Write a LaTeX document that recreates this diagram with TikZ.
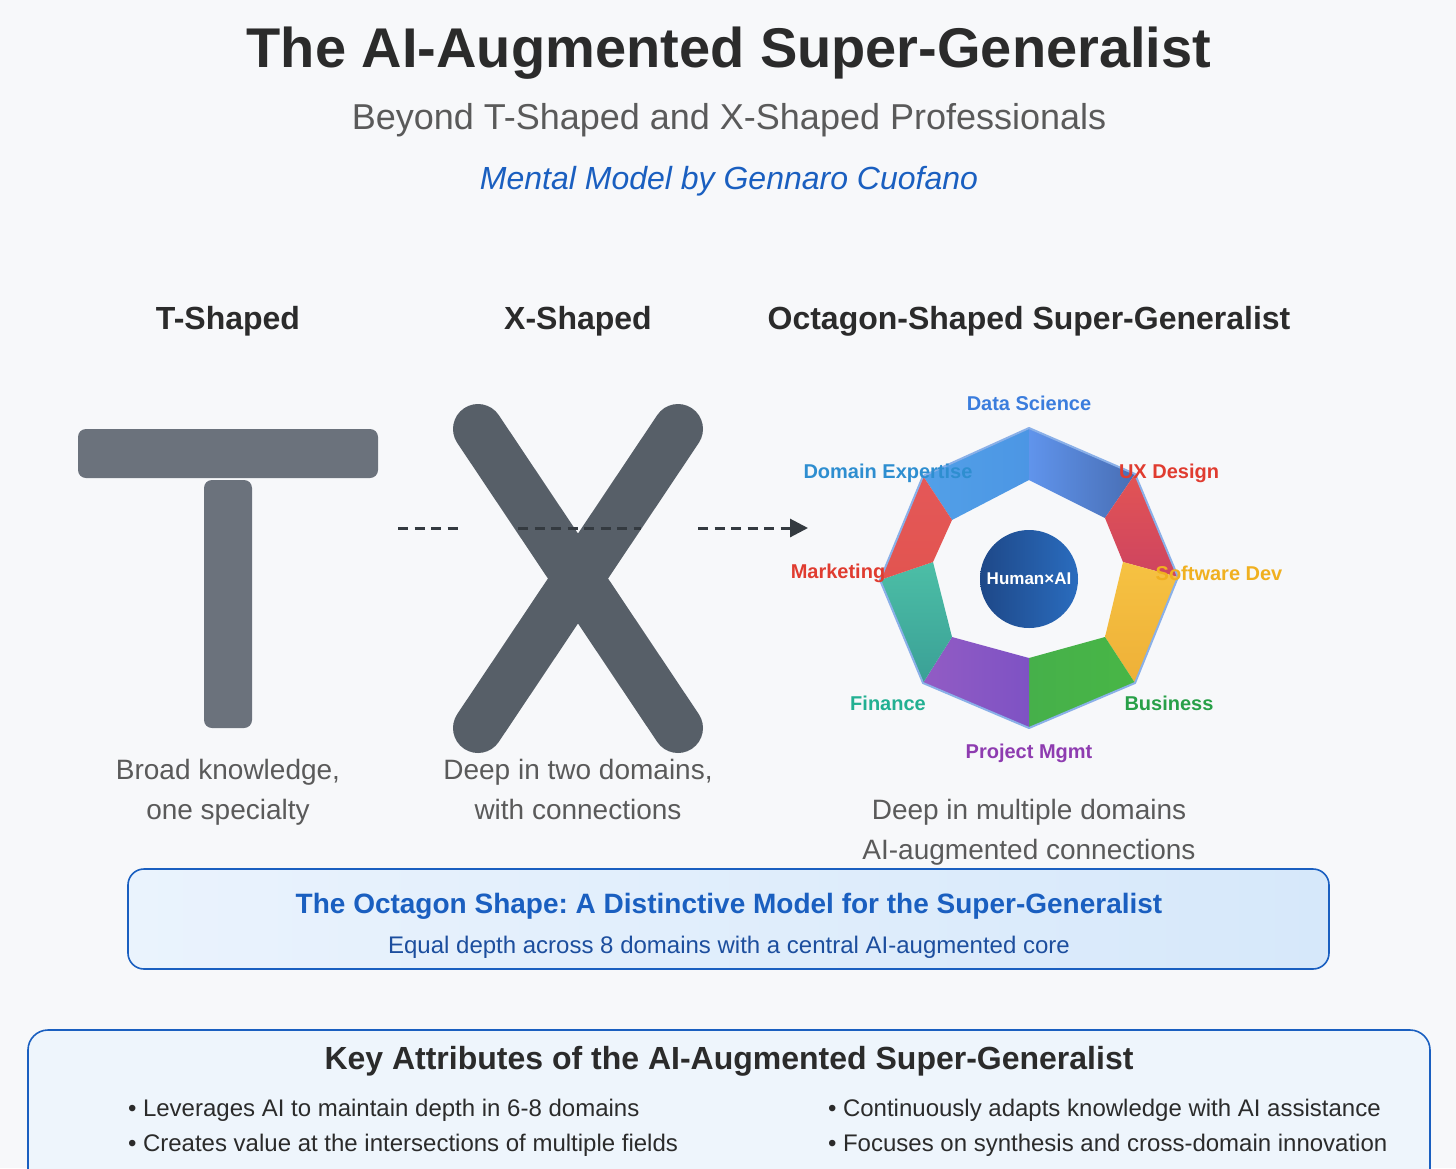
\documentclass[tikz,border=0pt]{standalone}
\usepackage{fontspec}
\setmainfont{Liberation Sans}
\usetikzlibrary{arrows.meta}
\frenchspacing
\definecolor{bgc}{HTML}{F7F8FA}
\definecolor{ink}{HTML}{2B2B2B}
\definecolor{greyt}{HTML}{5A5A5A}
\definecolor{blueA}{HTML}{1A5FC0}
\definecolor{blueB}{HTML}{1C4E9E}
\definecolor{tgray}{HTML}{6B727C}
\definecolor{xgray}{HTML}{575F68}
\definecolor{dashc}{HTML}{343A40}
\definecolor{octb}{HTML}{8AB0E8}
\definecolor{lDS}{HTML}{3B7DDD}
\definecolor{lDE}{HTML}{2E8ED0}
\definecolor{lRed}{HTML}{E03C30}
\definecolor{lSW}{HTML}{F0B020}
\definecolor{lFin}{HTML}{22B092}
\definecolor{lBus}{HTML}{28A048}
\definecolor{lPM}{HTML}{8E3CB0}
\newcommand\fsz[2]{\fontsize{#1}{#2}\selectfont}
\tikzset{
  txt/.style={inner sep=0, outer sep=0, anchor=center},
  dashln/.style={draw=dashc, line width=3, dash pattern=on 10pt off 6.5pt},
  domlab/.style={txt, font=\fsz{20}{24}\bfseries},
  captxt/.style={txt, anchor=base, font=\fsz{28}{33}, text=greyt},
  headtxt/.style={txt, font=\fsz{32}{38}\bfseries, text=ink},
  bultxt/.style={txt, anchor=west, font=\fsz{24}{28}, text=ink},
}
\begin{document}
\begin{tikzpicture}[x=1pt,y=-1pt]
\useasboundingbox (0,0) rectangle (1456,1168);
\fill[bgc] (0,0) rectangle (1456,1168);

% titles
\node[txt, font=\fsz{56}{66}\bfseries, text=ink] (title) at (729,53) {The AI-Augmented Super-Generalist};
\node[txt, font=\fsz{36}{42}, text=greyt] (sub) at (729,120) {Beyond T-Shaped and X-Shaped Professionals};
\node[txt, font=\fsz{32}{38}\itshape, text=blueA] (author) at (729,181) {Mental Model by Gennaro Cuofano};

% headings
\node[headtxt] (hT) at (228,321) {T-Shaped};
\node[headtxt] (hX) at (578,321) {X-Shaped};
\node[headtxt] (hO) at (1029,321) {Octagon-Shaped Super-Generalist};

% T shape
\fill[tgray, rounded corners=8] (78,429) rectangle (378,478);
\fill[tgray, rounded corners=8] (204,480) rectangle (252,728);

% X shape
\draw[xgray, line width=50, line cap=round] (478,429) -- (678,728);
\draw[xgray, line width=50, line cap=round] (678,429) -- (478,728);

% dashed connectors
\coordinate (d1a) at (398,528); \coordinate (d1b) at (458,528);
\coordinate (d2a) at (518,528); \coordinate (d2b) at (641,528);
\coordinate (d3a) at (698,528); \coordinate (d3b) at (808,528);
\draw[dashln] (d1a) -- (d1b);
\draw[dashln] (d2a) -- (d2b);
\draw[dashln, -{Triangle[length=18pt,width=18pt]}] (d3a) -- (d3b);

% octagon
\begin{scope}[shift={(1029,578)}]
\coordinate (oT) at (0,-150);   \coordinate (oUR) at (106,-104);
\coordinate (oR) at (149,-1);   \coordinate (oLR) at (106,105);
\coordinate (oB) at (0,150);    \coordinate (oLL) at (-106,105);
\coordinate (oL) at (-149,2);   \coordinate (oUL) at (-106,-102);
\coordinate (iT) at (0,-98);    \coordinate (iUR) at (76,-60);
\coordinate (iR) at (94,-16);   \coordinate (iLR) at (76,59);
\coordinate (iB) at (0,80);     \coordinate (iLL) at (-77,59);
\coordinate (iL) at (-96,-16);  \coordinate (iUL) at (-77,-58);
\shade[left color={rgb,255:red,82;green,160;blue,232}, right color={rgb,255:red,76;green,150;blue,228}] (oUL) -- (oT) -- (iT) -- (iUL) -- cycle;
\shade[shading angle=-60, left color={rgb,255:red,96;green,148;blue,236}, right color={rgb,255:red,72;green,110;blue,180}] (oT) -- (oUR) -- (iUR) -- (iT) -- cycle;
\shade[top color={rgb,255:red,226;green,84;blue,84}, bottom color={rgb,255:red,206;green,68;blue,96}] (oUR) -- (oR) -- (iR) -- (iUR) -- cycle;
\shade[top color={rgb,255:red,246;green,194;blue,66}, bottom color={rgb,255:red,238;green,176;blue,56}] (oR) -- (oLR) -- (iLR) -- (iR) -- cycle;
\shade[left color={rgb,255:red,70;green,176;blue,74}, right color={rgb,255:red,72;green,182;blue,70}] (oLR) -- (oB) -- (iB) -- (iLR) -- cycle;
\shade[left color={rgb,255:red,146;green,92;blue,196}, right color={rgb,255:red,126;green,82;blue,196}] (oB) -- (oLL) -- (iLL) -- (iB) -- cycle;
\shade[top color={rgb,255:red,76;green,190;blue,166}, bottom color={rgb,255:red,58;green,160;blue,150}] (oLL) -- (oL) -- (iL) -- (iLL) -- cycle;
\shade[top color={rgb,255:red,228;green,88;blue,88}, bottom color={rgb,255:red,226;green,84;blue,80}] (oL) -- (oUL) -- (iUL) -- (iL) -- cycle;
\draw[octb, line width=2, line join=round] (oT) -- (oUR) -- (oR) -- (oLR) -- (oB) -- (oLL) -- (oL) -- (oUL) -- cycle;
\node[circle, minimum size=98, inner sep=0, shading=axis, shading angle=45,
      left color={rgb,255:red,30;green,72;blue,136}, right color={rgb,255:red,42;green,108;blue,190},
      text=white, font=\fsz{17}{20}\bfseries] (core) at (0,1) {Human×AI};
\end{scope}

% domain labels
\node[domlab, text=lDS]  (lab1) at (1029,403) {Data Science};
\node[domlab, text=lRed] (lab2) at (1169,473) {UX Design};
\node[domlab, text=lSW]  (lab3) at (1219,573) {Software Dev};
\node[domlab, text=lBus] (lab4) at (1169,703) {Business};
\node[domlab, text=lPM]  (lab5) at (1029,753) {Project Mgmt};
\node[domlab, text=lFin] (lab6) at (888,703) {Finance};
\node[domlab, text=lRed] (lab7) at (838,573) {Marketing};
\node[domlab, text=lDE]  (lab8) at (888,473) {Domain Expertise};

% captions
\node[captxt] (c1a) at (228,779) {Broad knowledge,};
\node[captxt] (c1b) at (228,819) {one specialty};
\node[captxt] (c2a) at (578,779) {Deep in two domains,};
\node[captxt] (c2b) at (578,819) {with connections};
\node[captxt] (c3a) at (1029,819) {Deep in multiple domains};
\node[captxt] (c3b) at (1029,859) {AI-augmented connections};

% box 1
\path[draw=blueA, line width=1.6, rounded corners=16, shading angle=110,
      left color={rgb,255:red,234;green,243;blue,253}, right color={rgb,255:red,214;green,232;blue,250}]
  (128,869) rectangle (1329,969);
\node[txt, font=\fsz{28}{33}\bfseries, text=blueA] (b1t) at (729,906) {The Octagon Shape: A Distinctive Model for the Super-Generalist};
\node[txt, font=\fsz{24}{28}, text=blueB] (b1s) at (729,947) {Equal depth across 8 domains with a central AI-augmented core};

% box 2
\path[draw=blueA, line width=1.6, rounded corners=20, fill={rgb,255:red,238;green,245;blue,252}]
  (28,1030) rectangle (1430,1200);
\node[txt, font=\fsz{32}{38}\bfseries, text=ink] (b2t) at (729,1061) {Key Attributes of the AI-Augmented Super-Generalist};
\node[bultxt] (k1) at (128,1110) {• Leverages AI to maintain depth in 6-8 domains};
\node[bultxt] (k2) at (128,1145) {• Creates value at the intersections of multiple fields};
\node[bultxt] (k3) at (828,1110) {• Continuously adapts knowledge with AI assistance};
\node[bultxt] (k4) at (828,1145) {• Focuses on synthesis and cross-domain innovation};
\end{tikzpicture}
\end{document}
